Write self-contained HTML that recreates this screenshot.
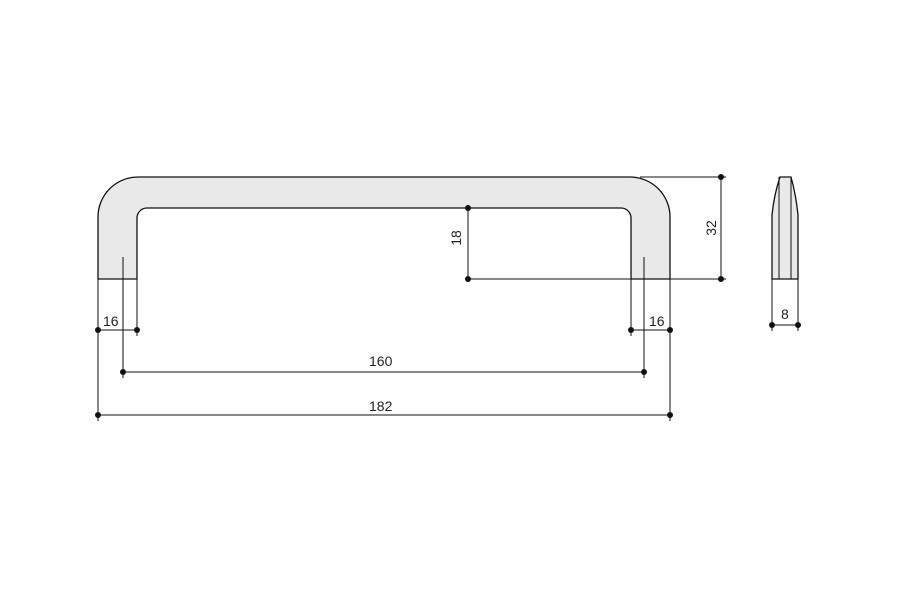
<!DOCTYPE html>
<html><head><style>body{margin:0;background:#fff}svg{display:block}text{font-family:"Liberation Sans",sans-serif;font-size:14px;fill:#222}</style></head><body>
<svg width="900" height="600" viewBox="0 0 900 600">
<g stroke="#111" stroke-width="1.3" fill="#e9e9e9">
<path d="M98,279 L98,217 A40,40 0 0 1 138,177 L630,177 A40,40 0 0 1 670,217 L670,279 L631,279 L631,218 A10,10 0 0 0 621,208 L147,208 A10,10 0 0 0 137,218 L137,279 Z"/>
<path d="M772,279 L772,215 Q774,195 780,177 L791,177 Q796,195 798,215 L798,279 Z"/>
</g>
<g stroke="#111" stroke-width="1" fill="none">
<line x1="779" y1="177" x2="779" y2="279"/><line x1="791" y1="177" x2="791" y2="279"/>
<line x1="123" y1="257" x2="123" y2="378"/><line x1="644" y1="257" x2="644" y2="378"/>
<line x1="98" y1="279" x2="98" y2="421"/><line x1="670" y1="279" x2="670" y2="421"/>
<line x1="137" y1="279" x2="137" y2="336"/><line x1="631" y1="279" x2="631" y2="336"/>
<line x1="98" y1="330" x2="137" y2="330"/><line x1="631" y1="330" x2="670" y2="330"/>
<line x1="123" y1="372" x2="644" y2="372"/><line x1="98" y1="415" x2="670" y2="415"/>
<line x1="640" y1="177" x2="726" y2="177"/><line x1="468" y1="279" x2="726" y2="279"/>
<line x1="721" y1="177" x2="721" y2="279"/><line x1="468" y1="208" x2="468" y2="279"/>
<line x1="772" y1="279" x2="772" y2="331"/><line x1="798" y1="279" x2="798" y2="331"/>
<line x1="772" y1="325" x2="798" y2="325"/>
</g>
<g fill="#111">
<circle cx="98" cy="330" r="3"/><circle cx="137" cy="330" r="3"/><circle cx="631" cy="330" r="3"/><circle cx="670" cy="330" r="3"/>
<circle cx="123" cy="372" r="3"/><circle cx="644" cy="372" r="3"/><circle cx="98" cy="415" r="3"/><circle cx="670" cy="415" r="3"/>
<circle cx="721" cy="177" r="3"/><circle cx="721" cy="279" r="3"/><circle cx="468" cy="208" r="3"/><circle cx="468" cy="279" r="3"/>
<circle cx="772" cy="325" r="3"/><circle cx="798" cy="325" r="3"/>
</g>
<text x="103" y="326">16</text><text x="649" y="326">16</text>
<text x="369" y="366">160</text><text x="369" y="411">182</text>
<text x="781" y="319">8</text>
<text transform="translate(716,228) rotate(-90)" text-anchor="middle">32</text>
<text transform="translate(461,238) rotate(-90)" text-anchor="middle">18</text>
</svg>
</body></html>
